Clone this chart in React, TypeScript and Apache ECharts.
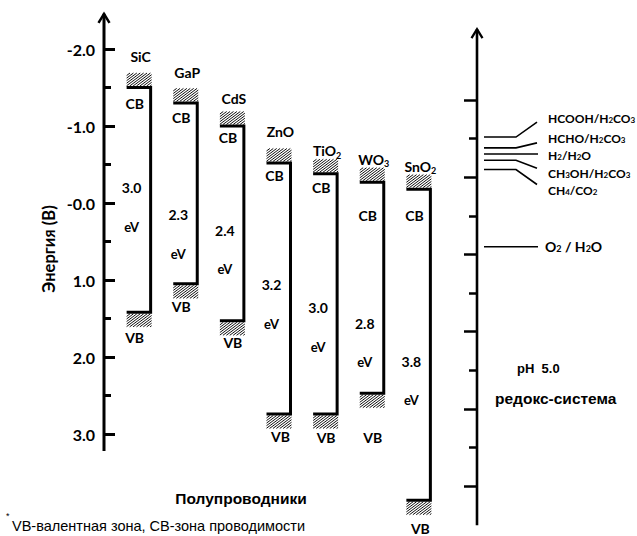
import React, { useEffect, useRef } from 'react';
import * as echarts from 'echarts';

// ---------- data ----------
const materials = ['SiC', 'GaP', 'CdS', 'ZnO', 'TiO2', 'WO3', 'SnO2'];
const cbLevels = [-1.5, -1.3, -1.0, -0.52, -0.38, -0.27, -0.18];
const vbLevels = [1.42, 1.05, 1.53, 2.74, 2.74, 2.47, 3.86];
const gapLabels = ['3.0', '2.3', '2.4', '3.2', '3.0', '2.8', '3.8'];

const energyTicks = [-2, -1, 0, 1, 2, 3];
const energyTickLabels = ['-2.0', '-1.0', '-0.0', '1.0', '2.0', '3.0'];

const redoxCouples = ['HCOOH/H2CO3', 'HCHO/H2CO3', 'H2/H2O', 'CH3OH/H2CO3', 'CH4/CO2', 'O2 / H2O'];
const redoxPotentials = [-0.52, -0.38, -0.3, -0.22, -0.1, 0.9];

// ---------- layout (pixels, not data) ----------
const nameDy = [-31, -30, -28, -31, -23, -23, -23];
const cbDy = [16, 15, 11, 13, 14, 33, 26];
const vbDy = [25, 23, 22, 23, 24, 44, 28];
const vbDx = [-16, -16, -11, -10, -11, -11, -10];
const gapDy = [100, 112, 104, 122, 134, 141, 172];
const redoxLabelDy = [-19, -9, 1, 13, 21, 0];
const redoxLineEndDy = [-15, -5, 0, 8, 15, 0];

const LEFT_AXIS_EXT = [-2.47, 3.22];
const RIGHT_AXIS_EXT = [-1.93, 4.51];

const FONT_CAL = 'Lato, "Open Sans", "DejaVu Sans", sans-serif';
const FONT_ARIAL = '"Liberation Sans", Arial, sans-serif';

const sub = (s: string) => s.replace(/(\d)/g, '{s|$1}');

function richStyle(size: number) {
  return {
    s: {
      fontSize: Math.round(size * 0.66),
      fontWeight: 'bold',
      fontFamily: FONT_CAL,
      fill: '#000',
      lineHeight: Math.round(size * 0.55),
      verticalAlign: 'bottom',
    },
  };
}

function textEl(text: string, x: number, y: number, size: number, align = 'center', formula = false, lh = 1.3) {
  return {
    type: 'text',
    style: {
      text: formula ? sub(text) : text,
      x,
      y,
      align,
      verticalAlign: 'middle',
      fill: '#000',
      fontSize: size,
      fontWeight: 'bold',
      fontFamily: FONT_CAL,
      lineHeight: Math.round(size * lh),
      rich: formula ? richStyle(size) : undefined,
    },
  };
}

function hatch(children: any[], x0: number, y0: number, w: number, h: number) {
  const s = 0.75;
  const step = 3.4;
  const run = h / s;
  for (let c = x0 - run; c < x0 + w; c += step) {
    let xa = c, ya = y0 + h;
    let xb = c + run, yb = y0;
    if (xa < x0) { ya = y0 + h - (x0 - xa) * s; xa = x0; }
    if (xb > x0 + w) { yb = y0 + h - (x0 + w - c) * s; xb = x0 + w; }
    if (xb - xa < 0.5) continue;
    children.push({
      type: 'line',
      shape: { x1: xa, y1: ya, x2: xb, y2: yb },
      style: { stroke: '#111', lineWidth: 1 },
    });
  }
}

export default function App() {
  const ref = useRef<HTMLDivElement>(null);

  useEffect(() => {
    if (!ref.current) return;
    const chart = echarts.init(ref.current, undefined, { renderer: 'svg' });

    const bandData = materials.map((m, i) => [i + 1, cbLevels[i], vbLevels[i]]);

    const option: any = {
      animation: false,
      backgroundColor: '#fff',
      grid: [
        { left: 104, top: 49, width: 373, height: 385 },
        { left: 477, top: 100, width: 100, height: 386 },
      ],
      xAxis: [
        { gridIndex: 0, type: 'value', min: 0, max: 8, show: false },
        { gridIndex: 1, type: 'value', min: 0, max: 100, show: false },
      ],
      yAxis: [
        {
          gridIndex: 0,
          type: 'value',
          inverse: true,
          min: -2,
          max: 3,
          interval: 1,
          axisLine: { show: false, onZero: false },
          axisTick: { show: true, inside: true, length: 11, lineStyle: { color: '#000', width: 3 } },
          minorTick: { show: true, splitNumber: 2, length: 7, lineStyle: { color: '#000', width: 3 } },
          splitLine: { show: false },
          axisLabel: {
            margin: 9,
            color: '#000',
            fontSize: 16,
            fontWeight: 'bold',
            fontFamily: FONT_CAL,
            formatter: (v: number) => {
              const k = energyTicks.findIndex((t) => Math.abs(t - v) < 1e-6);
              return k >= 0 ? energyTickLabels[k] : '';
            },
          },
        },
        {
          gridIndex: 1,
          type: 'value',
          inverse: true,
          min: -1,
          max: 4,
          interval: 1,
          axisLine: { show: false, onZero: false },
          axisTick: { show: true, inside: false, length: 13, lineStyle: { color: '#000', width: 2.5 } },
          minorTick: { show: true, splitNumber: 2, length: 8, lineStyle: { color: '#000', width: 2.5 } },
          splitLine: { show: false },
          axisLabel: { show: false },
        },
      ],
      series: [
        // left axis line with open arrow
        {
          type: 'custom',
          xAxisIndex: 0,
          yAxisIndex: 0,
          clip: false,
          silent: true,
          data: [[0, LEFT_AXIS_EXT[0], LEFT_AXIS_EXT[1]]],
          renderItem: (params: any, api: any) => {
            const t = api.coord([api.value(0), api.value(1)]);
            const b = api.coord([api.value(0), api.value(2)]);
            return {
              type: 'group',
              children: [
                { type: 'line', shape: { x1: t[0], y1: t[1] + 1, x2: b[0], y2: b[1] }, style: { stroke: '#000', lineWidth: 3 } },
                { type: 'polyline', shape: { points: [[t[0] - 5.5, t[1] + 10], [t[0], t[1] + 1], [t[0] + 5.5, t[1] + 10]] }, style: { stroke: '#000', lineWidth: 2.5, fill: null } },
              ],
            };
          },
        },
        // right axis line with open arrow
        {
          type: 'custom',
          xAxisIndex: 1,
          yAxisIndex: 1,
          clip: false,
          silent: true,
          data: [[0, RIGHT_AXIS_EXT[0], RIGHT_AXIS_EXT[1]]],
          renderItem: (params: any, api: any) => {
            const t = api.coord([api.value(0), api.value(1)]);
            const b = api.coord([api.value(0), api.value(2)]);
            return {
              type: 'group',
              children: [
                { type: 'line', shape: { x1: t[0], y1: t[1] + 1, x2: b[0], y2: b[1] }, style: { stroke: '#000', lineWidth: 2.6 } },
                { type: 'polyline', shape: { points: [[t[0] - 5.5, t[1] + 10], [t[0], t[1] + 1], [t[0] + 5.5, t[1] + 10]] }, style: { stroke: '#000', lineWidth: 2.3, fill: null } },
              ],
            };
          },
        },
        // semiconductor band diagrams
        {
          type: 'custom',
          xAxisIndex: 0,
          yAxisIndex: 0,
          clip: false,
          silent: true,
          data: bandData,
          renderItem: (params: any, api: any) => {
            const i = params.dataIndex;
            const top = api.coord([api.value(0), api.value(1)]);
            const bot = api.coord([api.value(0), api.value(2)]);
            const x = top[0];
            const yc = top[1];
            const yv = bot[1];
            const W = 24;
            const H = 13;
            const children: any[] = [];
            hatch(children, x - W, yc - 1.5 - H, W + 1, H);
            hatch(children, x - W, yv + 1.5, W + 1, H);
            children.push({
              type: 'polyline',
              shape: { points: [[x - W, yc], [x, yc], [x, yv], [x - W, yv]] },
              style: { stroke: '#000', lineWidth: 3, fill: null, lineJoin: 'miter' },
            });
            children.push(textEl(materials[i], x - 10, yc + nameDy[i], 14, 'center', true));
            children.push(textEl('CB', x - 16, yc + cbDy[i], 14));
            children.push(textEl('VB', x + vbDx[i], yv + vbDy[i], 14));
            children.push(textEl(gapLabels[i], x - 19, yc + gapDy[i], 14));
            children.push(textEl('eV', x - 19, yc + gapDy[i] + 39, 13));
            return { type: 'group', children };
          },
        },
        // redox couples
        {
          type: 'custom',
          xAxisIndex: 1,
          yAxisIndex: 1,
          clip: false,
          silent: true,
          data: redoxPotentials.map((p) => [0, p]),
          renderItem: (params: any, api: any) => {
            const i = params.dataIndex;
            const p = api.coord([api.value(0), api.value(1)]);
            const x = p[0];
            const y = p[1];
            const children: any[] = [];
            const last = i === redoxCouples.length - 1;
            if (last || redoxLineEndDy[i] === 0) {
              children.push({ type: 'line', shape: { x1: x + 7, y1: y, x2: x + 61, y2: y }, style: { stroke: '#000', lineWidth: 1.6 } });
            } else {
              children.push({
                type: 'polyline',
                shape: { points: [[x + 7, y], [x + 39, y], [x + 60, y + redoxLineEndDy[i]]] },
                style: { stroke: '#000', lineWidth: 1.6, fill: null },
              });
            }
            const size = last ? 14 : 12;
            children.push(textEl(redoxCouples[i], x + (last ? 68 : 71), y + redoxLabelDy[i], size, 'left', true, 0.95));
            return { type: 'group', children };
          },
        },
      ],
      graphic: [
        {
          type: 'text',
          x: 49,
          y: 249,
          rotation: Math.PI / 2,
          style: {
            text: 'Энергия (В)',
            align: 'center',
            verticalAlign: 'middle',
            fill: '#000',
            fontSize: 16.5,
            fontWeight: 'bold',
            fontFamily: FONT_CAL,
          },
        },
        {
          type: 'text',
          x: 241,
          y: 498,
          style: { text: 'Полупроводники', align: 'center', verticalAlign: 'middle', fill: '#000', fontSize: 15.5, fontWeight: 'bold', fontFamily: FONT_ARIAL },
        },
        {
          type: 'text',
          x: 517,
          y: 368,
          style: { text: 'pH  5.0', align: 'left', verticalAlign: 'middle', fill: '#000', fontSize: 13, fontWeight: 'bold', fontFamily: FONT_ARIAL },
        },
        {
          type: 'text',
          x: 495,
          y: 398,
          style: { text: 'редокс-система', align: 'left', verticalAlign: 'middle', fill: '#000', fontSize: 15.5, fontWeight: 'bold', fontFamily: FONT_ARIAL },
        },
        {
          type: 'text',
          x: 6,
          y: 516,
          style: { text: '*', align: 'left', verticalAlign: 'middle', fill: '#000', fontSize: 9, fontFamily: FONT_ARIAL },
        },
        {
          type: 'text',
          x: 12,
          y: 526,
          style: { text: 'VB-валентная зона, CB-зона проводимости', align: 'left', verticalAlign: 'middle', fill: '#000', fontSize: 14.5, fontFamily: FONT_ARIAL },
        },
      ],
    };

    chart.setOption(option);
    return () => chart.dispose();
  }, []);

  return <div ref={ref} style={{ position: 'fixed', left: 0, top: 0, width: 637, height: 536 }} />;
}
